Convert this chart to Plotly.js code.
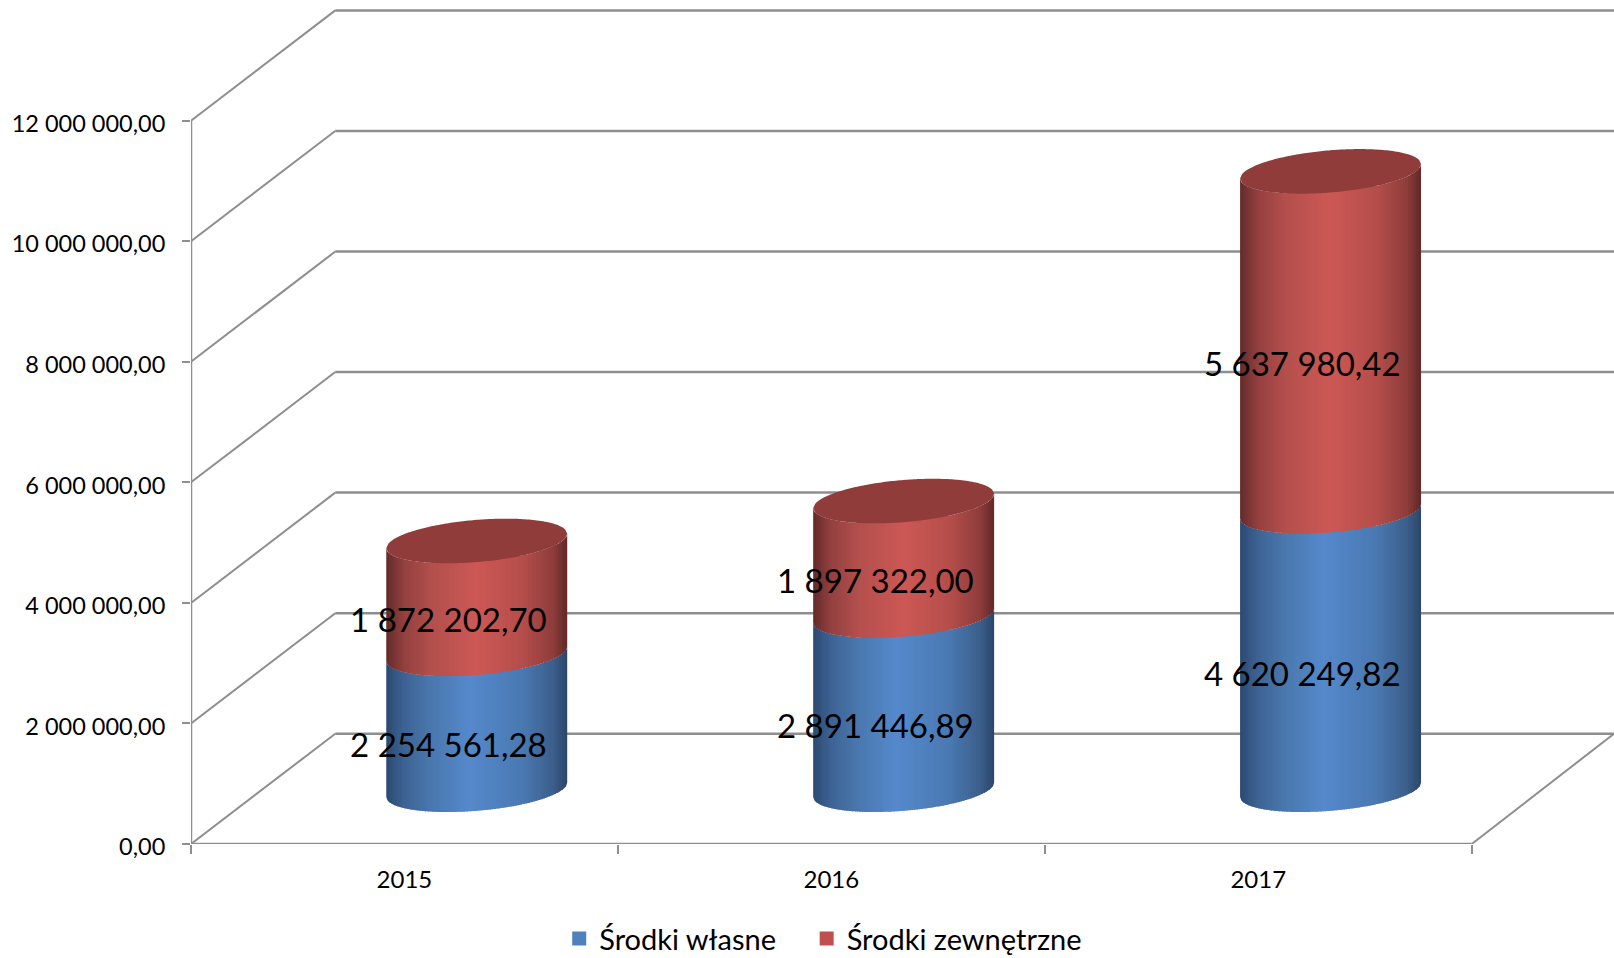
<!DOCTYPE html>
<html><head><meta charset="utf-8">
<script src="https://cdn.plot.ly/plotly-3.0.0.min.js"></script>
<style>html,body{margin:0;padding:0;background:#fff;overflow:hidden}#c{width:1614px;height:958px}</style>
</head><body><div id="c"></div>
<script>
const years = [2015, 2016, 2017];
const srodkiWlasne = [2254561.28, 2891446.89, 4620249.82];
const srodkiZewnetrzne = [1872202.70, 1897322.00, 5637980.42];
const valueTicks = [0, 2000000, 4000000, 6000000, 8000000, 10000000, 12000000];
const seriesNames = ['Środki własne', 'Środki zewnętrzne'];

const FONT = 'Lato, "Open Sans", sans-serif';
const W = 1614, H = 958;
const axisX = 190.7, axisY = 844.3, pxPerCat = 427, pxPerMillion = 60.3;
const pxX = p => p / pxPerCat, pxV = p => p / pxPerMillion * 1e6;
const xMin = 0.5, xEnd = 3.5, xMax = xMin + (W - axisX) / pxPerCat, yMax = pxV(axisY);
const depthX = pxX(144.3), depthV = pxV(110.3);
const cylDX = pxX(72.3), cylLift = pxV(54.3), radX = pxX(90.5), radV = pxV(21.1), tiltV = pxV(7.25);
const labelDX = pxX(44), labelLift = pxV(27.5);
const GRID = '#8e8e8e';

function fmt(v){
  const [a, b] = v.toFixed(2).split('.');
  return a.replace(/\B(?=(\d{3})+$)/g, ' ') + ',' + b;
}
function hexMix(stops, u){
  let i = 0; while (i < stops.length - 2 && u > stops[i+1][0]) i++;
  const [u0, c0] = stops[i], [u1, c1] = stops[i+1];
  const f = Math.min(1, Math.max(0, (u - u0) / (u1 - u0)));
  const ch = (c, k) => parseInt(c.substr(1 + 2*k, 2), 16);
  return 'rgb(' + [0,1,2].map(k => Math.round(ch(c0,k) + (ch(c1,k) - ch(c0,k)) * f)).join(',') + ')';
}
const blueStops = [[0,'#2b4a72'],[0.1,'#3d6394'],[0.25,'#4a78ae'],[0.46,'#5589cc'],[0.75,'#4a79b2'],[0.92,'#3c5f8c'],[1,'#2b4668']];
const redStops  = [[0,'#632b2a'],[0.1,'#934140'],[0.25,'#b34f4c'],[0.5,'#cd5855'],[0.75,'#b54e4b'],[0.92,'#8f3d3b'],[1,'#5f2928']];

const traces = [];

// real stacked values; hidden behind the cylinder surfaces, they also give the legend
const centers = years.map((_, i) => i + 1 + cylDX);
traces.push({type:'bar', name:seriesNames[0], x:centers, y:srodkiWlasne, base:years.map(()=>cylLift), width:0.2, legend:'legend',
  marker:{color:'#4f81bd', line:{color:'#4f81bd', width:2}}, hoverinfo:'skip'});
traces.push({type:'bar', name:seriesNames[1], x:centers, y:srodkiZewnetrzne, base:srodkiWlasne.map(v=>v+cylLift), width:0.2, legend:'legend2',
  marker:{color:'#c0504d', line:{color:'#c0504d', width:2}}, hoverinfo:'skip'});

// wall / floor lines
const line = (x, y, w) => ({type:'scatter', mode:'lines', x, y, line:{color:GRID, width:w}, showlegend:false, hoverinfo:'skip', cliponaxis:false});
const obX = [], obY = [], wallX = [], wallY = [];
valueTicks.forEach(v => {
  obX.push(xMin, xMin + depthX, null); obY.push(v, v + depthV, null);
  wallX.push(xMin + depthX, xMax, null); wallY.push(v + depthV, v + depthV, null);
});
obX.push(xEnd, xMax, null); obY.push(0, depthV, null);
traces.push(line(obX, obY, 2));
traces.push(line(wallX, wallY, 2.5));
traces.push(line([xMin, xMin, null, xMin, xEnd], [0, valueTicks[valueTicks.length-1], null, 0, 0], 2.5));

// cylinder side surfaces: vertical slices, one trace per shade
const SL = 70;
const front = (v, c) => v + cylLift + tiltV * c - radV * Math.sqrt(Math.max(0, 1 - c*c));
const back  = (v, c) => v + cylLift + tiltV * c + radV * Math.sqrt(Math.max(0, 1 - c*c));
function slices(lows, highs, stops){
  for (let s = 0; s < SL; s++){
    const u0 = s / SL, u1 = Math.min(1, (s + 1.5) / SL);
    const xs = [], ys = [];
    centers.forEach((cx, i) => {
      const pts = [];
      for (let k = 0; k <= 3; k++) pts.push(-1 + 2 * (u0 + (u1 - u0) * k / 3));
      pts.forEach(c => { xs.push(cx + radX * c); ys.push(front(lows[i], c)); });
      pts.slice().reverse().forEach(c => { xs.push(cx + radX * c); ys.push(front(highs[i], c)); });
      xs.push(null); ys.push(null);
    });
    traces.push({type:'scatter', mode:'none', fill:'toself', x:xs, y:ys, fillcolor:hexMix(stops, (s + 0.5) / SL),
      showlegend:false, hoverinfo:'skip', cliponaxis:false});
  }
}
const totals = srodkiWlasne.map((v, i) => v + srodkiZewnetrzne[i]);
slices(years.map(() => 0), srodkiWlasne, blueStops);
slices(srodkiWlasne, totals, redStops);

// top caps
const capX = [], capY = [];
centers.forEach((cx, i) => {
  const N = 90;
  for (let k = 0; k <= N; k++){ const c = -1 + 2 * k / N; capX.push(cx + radX * c); capY.push(back(totals[i], c)); }
  for (let k = N; k >= 0; k--){ const c = -1 + 2 * k / N; capX.push(cx + radX * c); capY.push(front(totals[i], c)); }
  capX.push(null); capY.push(null);
});
traces.push({type:'scatter', mode:'none', fill:'toself', x:capX, y:capY, fillcolor:'#8f3c3a', showlegend:false, hoverinfo:'skip', cliponaxis:false});

// data labels
const labelTrace = (vals, mids) => ({type:'scatter', mode:'text', x:years.map((_, i) => i + 1 + labelDX), y:mids.map(m => m + labelLift),
  text:vals.map(fmt), textposition:'middle center', textfont:{family:FONT, size:33, color:'#000'}, showlegend:false, hoverinfo:'skip', cliponaxis:false});
traces.push(labelTrace(srodkiWlasne, srodkiWlasne.map(v => v / 2)));
traces.push(labelTrace(srodkiZewnetrzne, srodkiZewnetrzne.map((v, i) => srodkiWlasne[i] + v / 2)));

const legendBase = {orientation:'h', xanchor:'left', y:(axisY - 939) / axisY, yanchor:'middle',
  font:{family:FONT, size:29, color:'#000'}, bgcolor:'rgba(0,0,0,0)', itemclick:false, itemdoubleclick:false};
const layout = {
  width:W, height:H, paper_bgcolor:'#fff', plot_bgcolor:'#fff', barmode:'overlay',
  margin:{l:axisX, r:0, t:0, b:H - axisY, pad:0, autoexpand:false}, hovermode:false, showlegend:true,
  font:{family:FONT, color:'#000'},
  xaxis:{range:[xMin, xMax], showgrid:false, zeroline:false, showline:false, ticks:'', tickmode:'array',
    tickvals:years.map((_, i) => i + 1), ticktext:years.map(String), tickfont:{family:FONT, size:24, color:'#000'}, ticklabelstandoff:19,
    minor:{ticks:'outside', ticklen:9, tickwidth:2, tickcolor:GRID, tickmode:'array', tickvals:[0.5,1.5,2.5,3.5], showgrid:false}},
  yaxis:{range:[0, yMax], showgrid:false, zeroline:false, showline:false, ticks:'outside', ticklen:8, tickwidth:2, tickcolor:GRID,
    tickmode:'array', tickvals:valueTicks, ticktext:valueTicks.map(fmt), tickfont:{family:FONT, size:23.5, color:'#000'}, ticklabelstandoff:12, ticklabelshift:3},
  legend:Object.assign({}, legendBase, {x:(559 - axisX) / (W - axisX)}),
  legend2:Object.assign({}, legendBase, {x:(806.5 - axisX) / (W - axisX)})
};
Plotly.newPlot('c', traces, layout, {displayModeBar:false, staticPlot:true});
</script></body></html>
